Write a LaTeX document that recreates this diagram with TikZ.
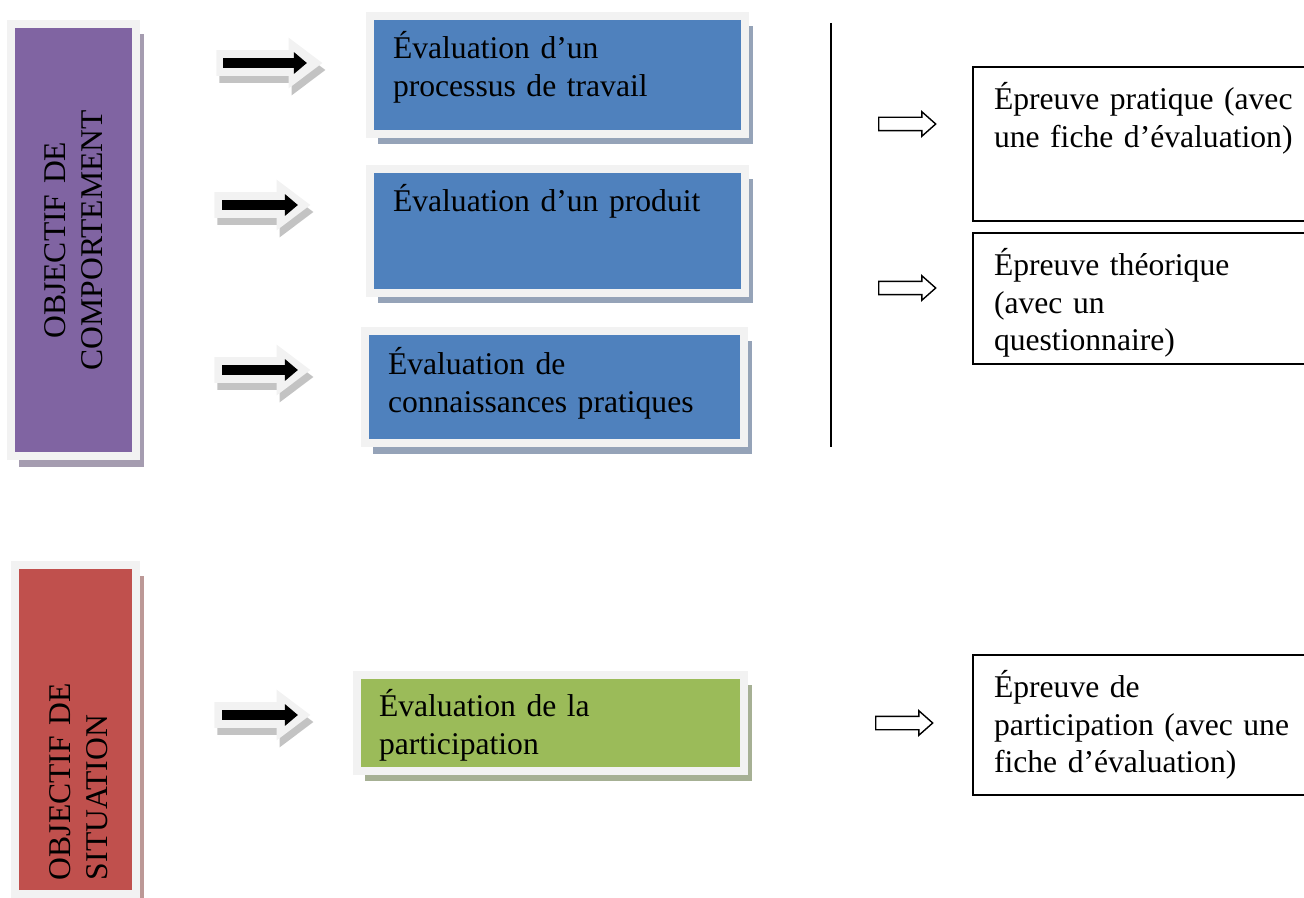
\documentclass[tikz,border=0pt]{standalone}
\usepackage{fontspec}
\setmainfont{Liberation Serif}
\usetikzlibrary{arrows.meta,shapes.arrows,shadows}

\definecolor{framegray}{RGB}{242,242,242}
\definecolor{arrshadow}{RGB}{195,195,195}
\definecolor{evalblue}{RGB}{79,129,189}
\definecolor{blueshadow}{RGB}{149,163,184}
\definecolor{objpurple}{RGB}{128,100,162}
\definecolor{purpleshadow}{RGB}{165,156,176}
\definecolor{objred}{RGB}{192,80,77}
\definecolor{redshadow}{RGB}{188,152,150}
\definecolor{evalgreen}{RGB}{155,187,89}
\definecolor{greenshadow}{RGB}{166,176,148}

\begin{document}
\begin{tikzpicture}[
    x=0.02cm, y=-0.02cm,
    txt/.style={font=\fontsize{18}{21.3}\selectfont, align=left, inner ysep=0pt, outer sep=0pt},
    colbox/.style 2 args={txt, anchor=north west, draw=framegray, line width=0.16cm, fill=#1,
        drop shadow={shadow xshift=0.16cm, shadow yshift=-0.21cm, fill=#2, opacity=1}},
    testbox/.style={txt, anchor=north west, draw, line width=0.9pt, inner xsep=0.42cm, text width=6.5cm},
    fatarr/.style={single arrow, fill=framegray, anchor=tail, inner xsep=0pt, inner ysep=0.25cm,
        single arrow head extend=0.25cm, single arrow tip angle=74, minimum height=#1,
        drop shadow={shadow xshift=0.06cm, shadow yshift=-0.14cm, fill=arrshadow, opacity=1}},
    openarr/.style={single arrow, draw, line width=0.8pt, fill=white, anchor=tail, inner xsep=0pt,
        inner ysep=0.12cm, single arrow head extend=0.11cm, single arrow tip angle=83, minimum height=1.14cm},
    blk/.style={line width=0.2cm, -{Triangle[length=0.26cm, width=0.42cm]}}
]
\path[use as bounding box, clip] (0,0) rectangle (1304,898);

% objectifs
\node[colbox={objpurple}{purpleshadow}, minimum width=2.5cm, minimum height=8.65cm] (comp) at (11,24) {};
\node[txt, rotate=90, align=center, text width=6cm] (comptxt) at (comp.center) {OBJECTIF DE\\COMPORTEMENT};
\node[colbox={objred}{redshadow}, minimum width=2.42cm, minimum height=6.59cm] (sit) at (15,565) {};
\node[txt, rotate=90, text width=5cm, inner xsep=0pt, anchor=base west] (sittxt) at (70,880) {OBJECTIF DE\\SITUATION};

% evaluations
\node[colbox={evalblue}{blueshadow}, inner xsep=0.46cm, text width=6.58cm, text height=0.86cm, text depth=1.5cm] (proc) at (370,16) {Évaluation d’un\\processus de travail};
\node[colbox={evalblue}{blueshadow}, inner xsep=0.46cm, text width=6.58cm, text height=0.86cm, text depth=1.62cm] (prod) at (370,169) {Évaluation d’un produit};
\node[colbox={evalblue}{blueshadow}, inner xsep=0.46cm, text width=6.67cm, text height=0.88cm, text depth=1.37cm] (conn) at (365,331) {Évaluation de\\connaissances pratiques};
\node[colbox={evalgreen}{greenshadow}, inner xsep=0.45cm, text width=6.86cm, text height=0.85cm, text depth=1.08cm] (part) at (356.5,674.5) {Évaluation de la\\participation};

% big arrows
\node[fatarr=2.12cm] (ar1) at (216,63) {};
\node[fatarr=1.92cm] (ar2) at (214,205) {};
\node[fatarr=1.92cm] (ar3) at (214,370) {};
\node[fatarr=1.92cm] (ar4) at (214,715) {};
\draw[blk] ([xshift=0.14cm]ar1.tail) -- ([xshift=-0.32cm]ar1.tip);
\draw[blk] ([xshift=0.16cm]ar2.tail) -- ([xshift=-0.26cm]ar2.tip);
\draw[blk] ([xshift=0.16cm]ar3.tail) -- ([xshift=-0.26cm]ar3.tip);
\draw[blk] ([xshift=0.16cm]ar4.tail) -- ([xshift=-0.26cm]ar4.tip);

% separator
\coordinate (sept) at (831,23);
\coordinate (sepb) at (831,447);
\draw[line width=1.1pt] (sept) -- (sepb);

% epreuves
\node[openarr] (oa1) at (878,124) {};
\node[openarr] (oa2) at (878,288) {};
\node[openarr] (oa3) at (875,723) {};
\node[testbox, text height=0.86cm, text depth=2.22cm] (prat) at (973,67) {Épreuve pratique (avec\\une fiche d’évaluation)};
\node[testbox, text height=0.86cm, text depth=1.76cm] (theo) at (973,233) {Épreuve théorique\\(avec un\\questionnaire)};
\node[testbox, text height=0.86cm, text depth=1.94cm] (epart) at (973,655) {Épreuve de\\participation (avec une\\fiche d’évaluation)};
\end{tikzpicture}
\end{document}
